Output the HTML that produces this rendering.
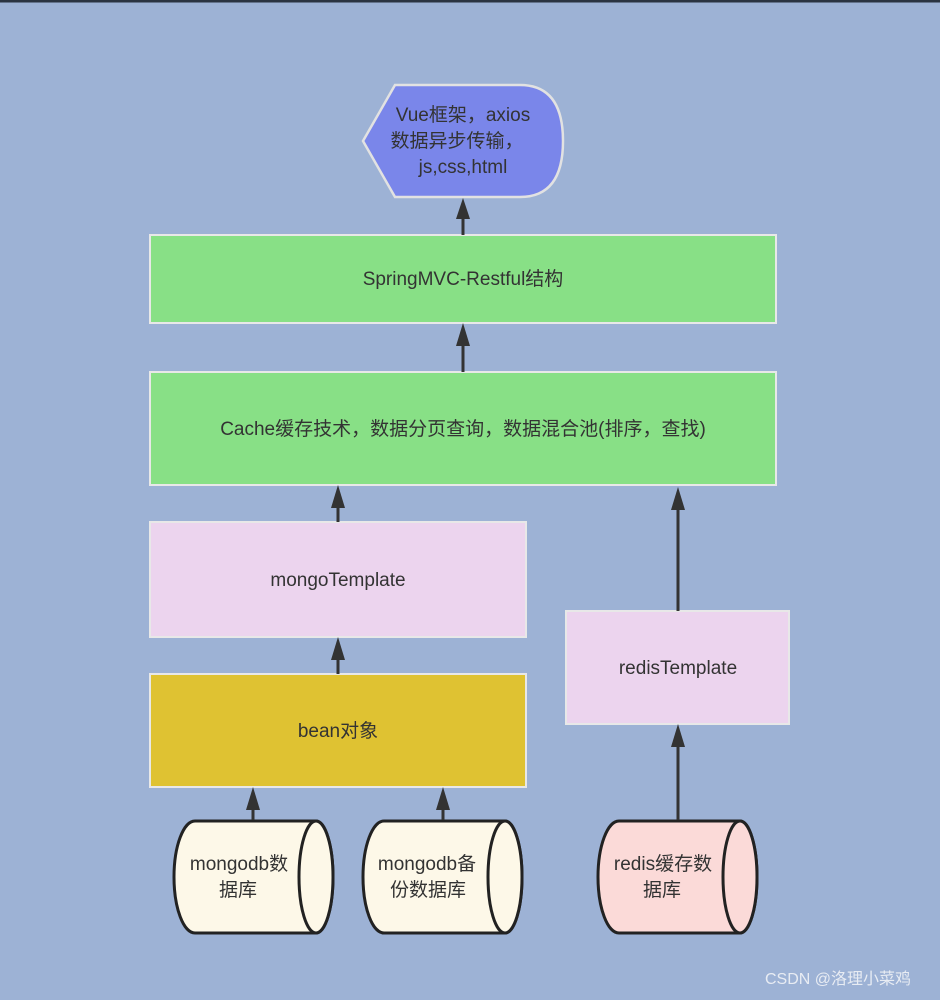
<!DOCTYPE html>
<html><head><meta charset="utf-8"><style>
html,body{margin:0;padding:0;background:#9db2d5;}
svg{display:block}
text{font-family:"Liberation Sans","Noto Sans CJK SC",sans-serif;fill:#333;font-size:19px;text-anchor:middle;dominant-baseline:middle}
</style></head><body>
<svg width="940" height="1000" viewBox="0 0 940 1000">
<defs><marker id="a" markerWidth="10" markerHeight="10" refX="5" refY="9" orient="auto-start-reverse" markerUnits="userSpaceOnUse"><path d="M0,0 L0,0"/></marker></defs>
<rect x="0" y="0" width="940" height="1000" fill="#9db2d5"/>
<rect x="0" y="0" width="940" height="2.5" fill="#2b3441"/>
<!-- display shape -->
<path d="M395,85 L520,85 Q563,85 563,141 Q563,197 520,197 L395,197 L363,141 Z" fill="#7a86ea" stroke="#e2e2e2" stroke-width="2.5"/>
<text x="463" y="116">Vue框架，axios</text>
<text x="457" y="142">数据异步传输，</text>
<text x="463" y="168">js,css,html</text>
<!-- boxes -->
<rect x="150" y="235" width="626" height="88" fill="#88e086" stroke="#e8e8e8" stroke-width="2"/>
<text x="463" y="280">SpringMVC-Restful结构</text>
<rect x="150" y="372" width="626" height="113" fill="#88e086" stroke="#e8e8e8" stroke-width="2"/>
<text x="463" y="430">Cache缓存技术，数据分页查询，数据混合池(排序，查找)</text>
<rect x="150" y="522" width="376" height="115" fill="#ecd4ee" stroke="#e8e8e8" stroke-width="2"/>
<text x="338" y="581">mongoTemplate</text>
<rect x="150" y="674" width="376" height="113" fill="#dfc232" stroke="#e8e8e8" stroke-width="2"/>
<text x="338" y="732">bean对象</text>
<rect x="566" y="611" width="223" height="113" fill="#ecd4ee" stroke="#e8e8e8" stroke-width="2"/>
<text x="678" y="669">redisTemplate</text>
<!-- cylinders -->
<g stroke="#222" stroke-width="3">
<path d="M195,821 L316,821 A17,56 0 0 1 316,933 L195,933 A21,56 0 0 1 195,821 Z" fill="#fdf8e8"/>
<ellipse cx="316" cy="877" rx="17" ry="56" fill="#fdf8e8"/>
<path d="M384,821 L505,821 A17,56 0 0 1 505,933 L384,933 A21,56 0 0 1 384,821 Z" fill="#fdf8e8"/>
<ellipse cx="505" cy="877" rx="17" ry="56" fill="#fdf8e8"/>
<path d="M619,821 L740,821 A17,56 0 0 1 740,933 L619,933 A21,56 0 0 1 619,821 Z" fill="#fbdad8"/>
<ellipse cx="740" cy="877" rx="17" ry="56" fill="#fbdad8"/>
</g>
<text x="239" y="865">mongodb数</text><text x="238" y="891">据库</text>
<text x="427" y="865">mongodb备</text><text x="428" y="891">份数据库</text>
<text x="663" y="865">redis缓存数</text><text x="662" y="891">据库</text>
<!-- arrows -->
<g stroke="#333" stroke-width="3">
<line x1="463" y1="235" x2="463" y2="215"/>
<line x1="463" y1="372" x2="463" y2="342"/>
<line x1="338" y1="522" x2="338" y2="504"/>
<line x1="338" y1="674" x2="338" y2="656"/>
<line x1="253" y1="820" x2="253" y2="806"/>
<line x1="443" y1="820" x2="443" y2="806"/>
<line x1="678" y1="611" x2="678" y2="506"/>
<line x1="678" y1="820" x2="678" y2="743"/>
</g>
<g fill="#333">
<path d="M463,198 L456,219 L470,219 Z"/>
<path d="M463,323 L456,346 L470,346 Z"/>
<path d="M338,485 L331,508 L345,508 Z"/>
<path d="M338,637 L331,660 L345,660 Z"/>
<path d="M253,787 L246,810 L260,810 Z"/>
<path d="M443,787 L436,810 L450,810 Z"/>
<path d="M678,487 L671,510 L685,510 Z"/>
<path d="M678,724 L671,747 L685,747 Z"/>
</g>
<text x="838" y="980" style="fill:#e8ecf3;font-size:16px">CSDN @洛理小菜鸡</text>
</svg>
</body></html>
